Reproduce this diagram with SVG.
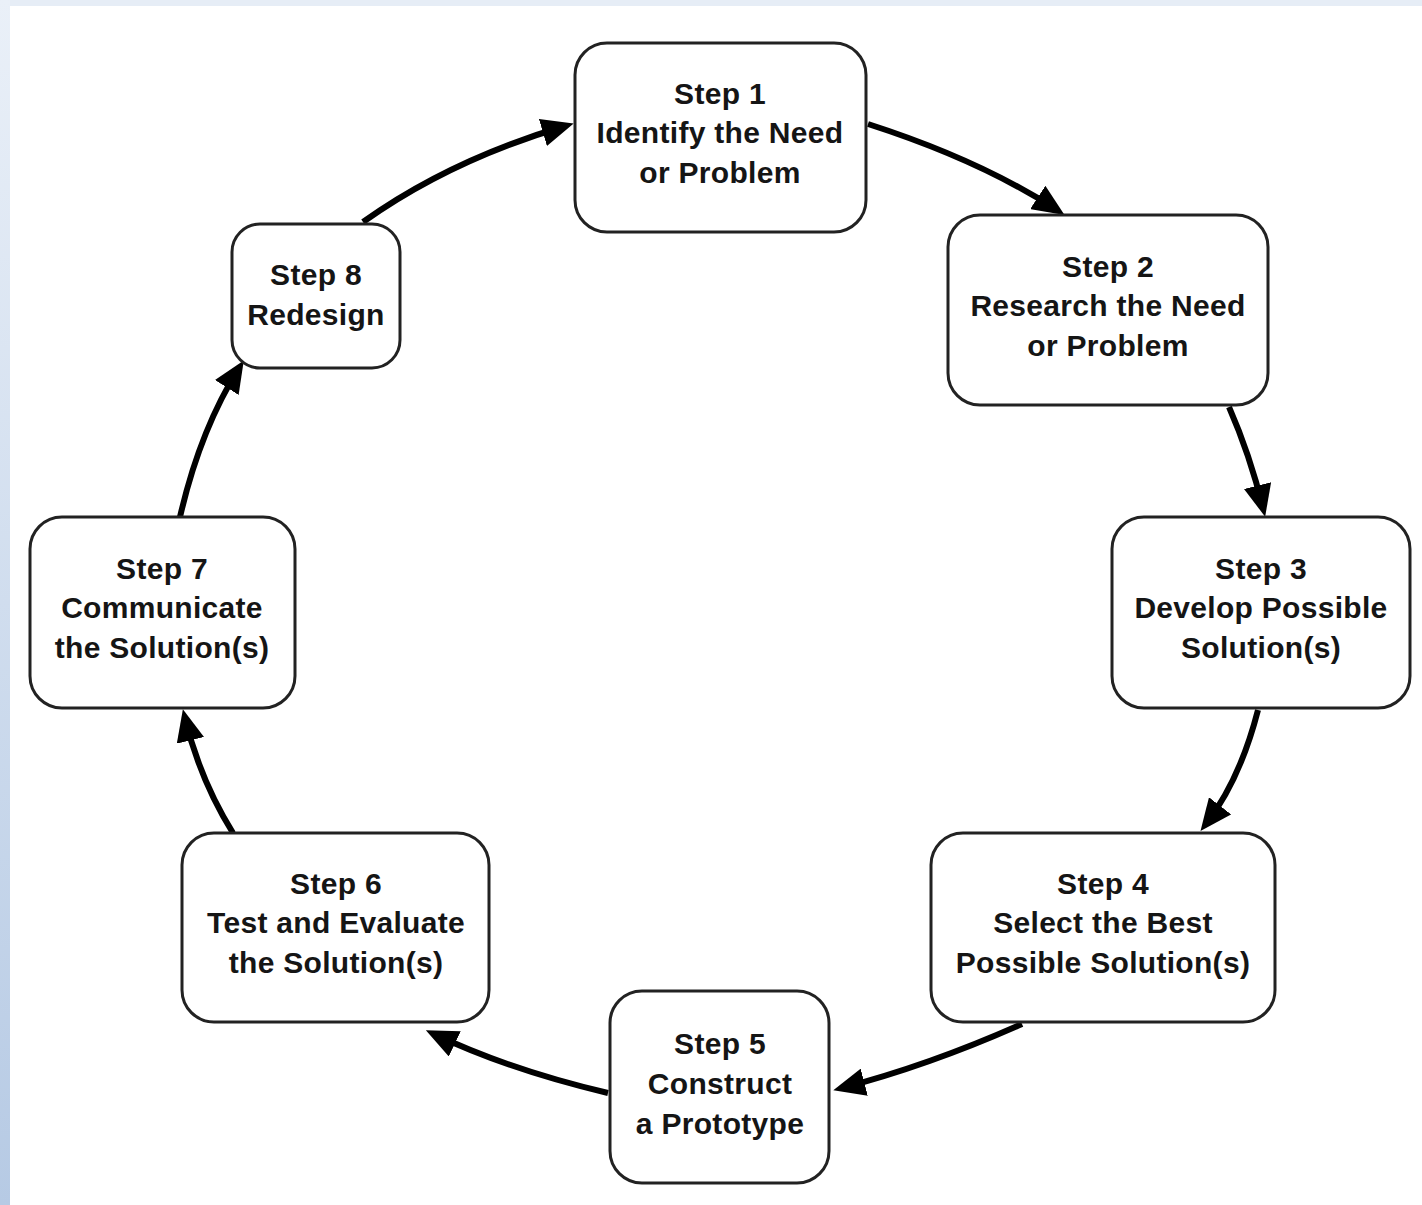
<svg xmlns="http://www.w3.org/2000/svg" width="1422" height="1205" viewBox="0 0 1422 1205">
  <defs>
    <linearGradient id="side" x1="0" y1="0" x2="0" y2="1">
      <stop offset="0" stop-color="#eaf0f8"/>
      <stop offset="1" stop-color="#b6cae4"/>
    </linearGradient>
    <marker id="ah" markerUnits="userSpaceOnUse" markerWidth="32" markerHeight="28" viewBox="0 0 32 28" refX="23" refY="14" orient="auto">
      <path d="M0,0 L32,14 L0,28 Z" fill="#000"/>
    </marker>
    <style>
      .box { fill: #fff; stroke: #222; stroke-width: 3; }
      .lbl { font-family: "Liberation Sans", Arial, sans-serif; font-weight: bold; font-size: 30px; letter-spacing: 0.3px; fill: #151515; text-anchor: middle; }
      .con { fill: none; stroke: #000; stroke-width: 6; marker-end: url(#ah); }
    </style>
  </defs>
  <rect x="0" y="0" width="1422" height="1205" fill="#fff"/>
  <rect x="0" y="0" width="1422" height="6" fill="#e6edf6"/>
  <rect x="0" y="0" width="10" height="1205" fill="url(#side)"/>

  <g id="connectors">
    <path class="con" d="M868,124 Q980,160 1057,210"/>
    <path class="con" d="M1229,407 Q1250,455 1263,508"/>
    <path class="con" d="M1258,710 Q1240,780 1206,824"/>
    <path class="con" d="M1022,1024 Q930,1065 842,1088"/>
    <path class="con" d="M608,1093 Q510,1070 434,1034"/>
    <path class="con" d="M233,833 Q200,780 185,718"/>
    <path class="con" d="M180,517 Q200,430 239,368"/>
    <path class="con" d="M363,222 Q450,160 565,126"/>
  </g>

  <g id="step1">
    <rect class="box" x="575" y="43" width="291" height="189" rx="32"/>
    <text class="lbl" x="720" y="104">Step 1</text>
    <text class="lbl" x="720" y="143">Identify the Need</text>
    <text class="lbl" x="720" y="183">or Problem</text>
  </g>
  <g id="step2">
    <rect class="box" x="948" y="215" width="320" height="190" rx="32"/>
    <text class="lbl" x="1108" y="277">Step 2</text>
    <text class="lbl" x="1108" y="316">Research the Need</text>
    <text class="lbl" x="1108" y="356">or Problem</text>
  </g>
  <g id="step3">
    <rect class="box" x="1112" y="517" width="298" height="191" rx="32"/>
    <text class="lbl" x="1261" y="579">Step 3</text>
    <text class="lbl" x="1261" y="618">Develop Possible</text>
    <text class="lbl" x="1261" y="658">Solution(s)</text>
  </g>
  <g id="step4">
    <rect class="box" x="931" y="833" width="344" height="189" rx="32"/>
    <text class="lbl" x="1103" y="894">Step 4</text>
    <text class="lbl" x="1103" y="933">Select the Best</text>
    <text class="lbl" x="1103" y="973">Possible Solution(s)</text>
  </g>
  <g id="step5">
    <rect class="box" x="610" y="991" width="219" height="192" rx="32"/>
    <text class="lbl" x="720" y="1054">Step 5</text>
    <text class="lbl" x="720" y="1094">Construct</text>
    <text class="lbl" x="720" y="1134">a Prototype</text>
  </g>
  <g id="step6">
    <rect class="box" x="182" y="833" width="307" height="189" rx="32"/>
    <text class="lbl" x="336" y="894">Step 6</text>
    <text class="lbl" x="336" y="933">Test and Evaluate</text>
    <text class="lbl" x="336" y="973">the Solution(s)</text>
  </g>
  <g id="step7">
    <rect class="box" x="30" y="517" width="265" height="191" rx="32"/>
    <text class="lbl" x="162" y="579">Step 7</text>
    <text class="lbl" x="162" y="618">Communicate</text>
    <text class="lbl" x="162" y="658">the Solution(s)</text>
  </g>
  <g id="step8">
    <rect class="box" x="232" y="224" width="168" height="144" rx="28"/>
    <text class="lbl" x="316" y="285">Step 8</text>
    <text class="lbl" x="316" y="325">Redesign</text>
  </g>
</svg>
